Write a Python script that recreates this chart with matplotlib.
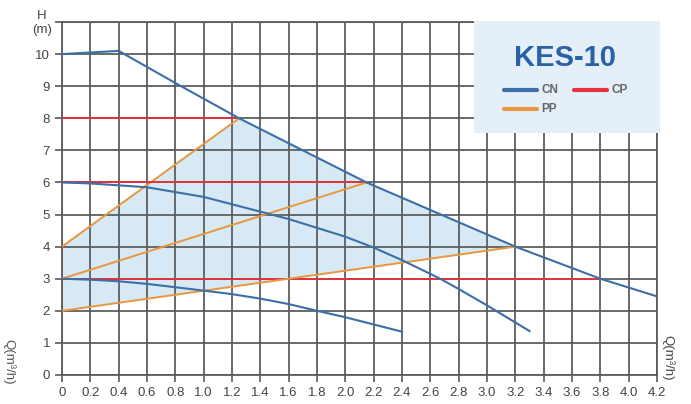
import matplotlib.pyplot as plt
from matplotlib.patches import Rectangle, Polygon
import numpy as np

plt.rcParams['font.family'] = ['Liberation Sans', 'DejaVu Sans']

# pump curves, Q in m3/h, H in m
cn_top_q = [0, 0.4, 0.8, 1.25, 2.15, 3.2, 3.8, 4.2]
cn_top_h = [10.0, 10.1, 9.1, 8.0, 6.0, 4.0, 3.0, 2.45]
cn_mid_q = [0, 0.2, 0.6, 1.0, 1.4, 1.6, 2.0, 2.2, 2.4, 2.67, 2.8, 3.0, 3.3]
cn_mid_h = [6.0, 5.97, 5.85, 5.55, 5.09, 4.86, 4.31, 3.97, 3.58, 3.0, 2.68, 2.17, 1.37]
cn_low_q = [0, 0.2, 0.4, 0.6, 1.0, 1.2, 1.4, 1.6, 1.8, 2.0, 2.4]
cn_low_h = [3.0, 2.97, 2.92, 2.84, 2.63, 2.52, 2.38, 2.21, 2.0, 1.8, 1.35]

cp_h = [8, 6, 3]
cp_qmax = [1.25, 2.15, 3.8]
pp_h0 = [4, 3, 2]
pp_q1 = [1.25, 2.15, 3.2]
pp_h1 = [8, 6, 4]

xticks = np.round(np.arange(0, 4.21, 0.2), 1)
xlabels = ['0'] + ['%.1f' % v for v in xticks[1:]]

blue = '#3b6fa6'
red = '#e2333f'
orange = '#e99640'

fig = plt.figure(figsize=(6.91, 4.04), dpi=100)
ax = fig.add_axes([0.0897, 0.0718, 0.8611, 0.8737])
ax.set_xlim(0, 4.2)
ax.set_ylim(0, 11)

# shaded working area
poly = Polygon([(0, pp_h0[2]), (pp_q1[2], pp_h1[2]), (pp_q1[1], pp_h1[1]),
                (pp_q1[0], pp_h1[0]), (0, pp_h0[0])],
               closed=True, facecolor='#d6e9f4', edgecolor='none', zorder=1)
ax.add_patch(poly)

ax.set_xticks(xticks)
ax.set_xticklabels(xlabels)
ax.set_yticks(range(0, 12))
ax.set_yticklabels([str(i) for i in range(0, 11)] + [''])
ax.grid(True, color='#595959', linewidth=1.25, zorder=2)
ax.set_axisbelow(False)
for s in ax.spines.values():
    s.set_color('#595959')
    s.set_linewidth(1.25)
ax.tick_params(direction='out', length=5, width=1.2, color='#595959',
               labelcolor='#444444', labelsize=9.5)
ax.tick_params(axis='x', pad=4)

for i in range(3):
    ax.plot([0, cp_qmax[i]], [cp_h[i], cp_h[i]], color=red, lw=1.4, zorder=3)
    ax.plot([0, pp_q1[i]], [pp_h0[i], pp_h1[i]], color=orange, lw=1.4, zorder=3)

ax.plot(cn_top_q, cn_top_h, color=blue, lw=1.5, zorder=4)
ax.plot(cn_mid_q, cn_mid_h, color=blue, lw=1.5, zorder=4)
ax.plot(cn_low_q, cn_low_h, color=blue, lw=1.5, zorder=4)

# legend box
box = Rectangle((474 / 691, 1 - 133 / 404), 186 / 691, 112 / 404,
                transform=fig.transFigure, facecolor='#e4eff8',
                edgecolor='none', zorder=5)
fig.patches.append(box)
fig.text(565 / 691, 1 - 58 / 404, 'KES-10', color='#2a62a8', fontsize=21,
         fontweight='bold', ha='center', va='center', zorder=6)
leg = [(504, 90, blue, 'CN'), (574, 90, red, 'CP'), (504, 109, orange, 'PP')]
for px, py, c, t in leg:
    fig.lines.append(plt.Line2D([px / 691, (px + 33) / 691],
                                [1 - py / 404, 1 - py / 404],
                                transform=fig.transFigure, color=c, lw=3,
                                solid_capstyle='round', zorder=6))
    fig.text((px + 37) / 691, 1 - py / 404, t, color='#666666', fontsize=8.5,
             fontweight='bold', va='center', zorder=6)

fig.text(42 / 691, 1 - 16 / 404, 'H', color='#444444', fontsize=9.5,
         ha='center', va='center')
fig.text(42 / 691, 1 - 30 / 404, '(m)', color='#444444', fontsize=9.5,
         ha='center', va='center')
fig.text(668 / 691, 1 - 358 / 404, 'Q(m³/h)', color='#444444', fontsize=9.5,
         rotation=-90, ha='center', va='center')
fig.text(9 / 691, 1 - 362 / 404, 'Q(m³/h)', color='#555555', fontsize=9.5,
         rotation=-90, ha='center', va='center')

fig.savefig('out.png', dpi=100)
